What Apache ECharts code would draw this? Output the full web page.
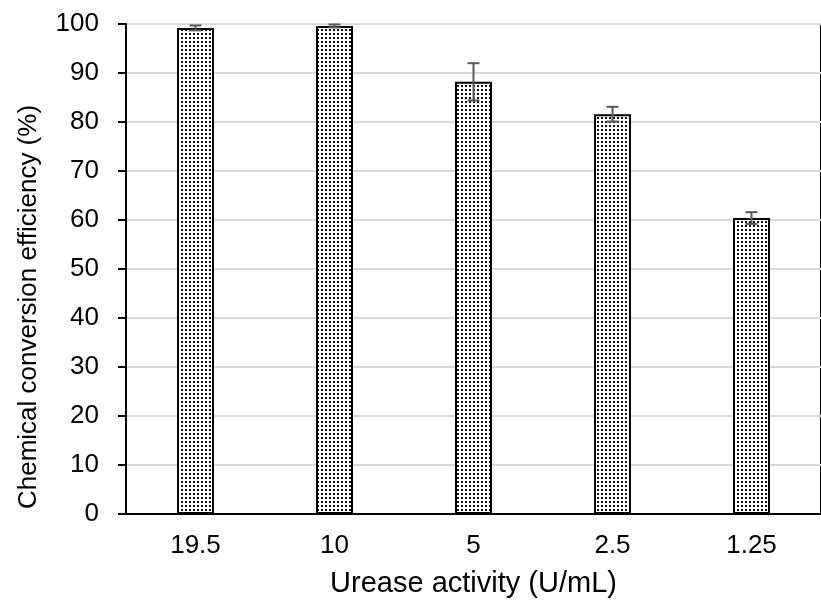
<!DOCTYPE html>
<html>
<head>
<meta charset="utf-8">
<script src="https://cdn.jsdelivr.net/npm/echarts@6/dist/echarts.min.js"></script>
<style>
  html, body { margin: 0; padding: 0; background: #fff; }
  #chartmain { width: 821px; height: 612px; }
</style>
</head>
<body>
<div id="chartmain"></div>
<script>
// data
var activities = ['19.5', '10', '5', '2.5', '1.25'];
var efficiency = [99.2, 99.6, 88.2, 81.6, 60.4];
var errors = [0.5, 0.3, 3.8, 1.5, 1.2];
var yTicks = [0, 10, 20, 30, 40, 50, 60, 70, 80, 90, 100];

window.onload = function () {
    // dotted fill like the excel pattern
    var tile = document.createElement('canvas');
    tile.width = 4;
    tile.height = 4;
    var ctx = tile.getContext('2d');
    ctx.fillStyle = '#ffffff';
    ctx.fillRect(0, 0, 4, 4);
    ctx.fillStyle = '#111111';
    ctx.fillRect(1, 1, 2, 2);

    var errData = activities.map(function (a, i) {
        return [i, efficiency[i] - errors[i], efficiency[i] + errors[i]];
    });

    var font = '"Liberation Sans", Arial, sans-serif';

    var option = {
        animation: false,
        grid: {
            left: 126, top: 24, width: 702, bottom: 98,
            show: true, borderColor: '#000', borderWidth: 2
        },
        xAxis: {
            type: 'category',
            data: activities,
            name: 'Urease activity (U/mL)',
            nameLocation: 'middle',
            nameGap: 55,
            nameTextStyle: { fontFamily: font, fontSize: 29, color: '#000' },
            axisLine: { lineStyle: { color: '#000', width: 2 } },
            axisTick: { show: false },
            axisLabel: { fontFamily: font, fontSize: 26, color: '#000', margin: 19 }
        },
        yAxis: {
            type: 'value',
            min: yTicks[0],
            max: yTicks[yTicks.length - 1],
            interval: 10,
            name: 'Chemical conversion efficiency (%)',
            nameLocation: 'middle',
            nameGap: 84,
            nameTextStyle: { fontFamily: font, fontSize: 26, color: '#000', padding: [0, 76, 0, 0] },
            axisLine: { show: true, lineStyle: { color: '#000', width: 2 } },
            axisTick: { show: true, length: 8, lineStyle: { color: '#000', width: 2 } },
            axisLabel: { fontFamily: font, fontSize: 26, color: '#000', margin: 27 },
            splitLine: { lineStyle: { color: '#d9d9d9', width: 2 } }
        },
        series: [
            {
                type: 'bar',
                data: efficiency,
                barWidth: 37,
                itemStyle: {
                    color: { image: tile, repeat: 'repeat' },
                    borderColor: '#000',
                    borderWidth: 2
                }
            },
            {
                type: 'custom',
                data: errData,
                z: 10,
                renderItem: function (params, api) {
                    var lo = api.coord([api.value(0), api.value(1)]);
                    var hi = api.coord([api.value(0), api.value(2)]);
                    var hw = 6;
                    var st = { stroke: '#595959', lineWidth: 2 };
                    return {
                        type: 'group',
                        children: [
                            { type: 'line', shape: { x1: hi[0], y1: hi[1], x2: lo[0], y2: lo[1] }, style: st },
                            { type: 'line', shape: { x1: hi[0] - hw, y1: hi[1], x2: hi[0] + hw, y2: hi[1] }, style: st },
                            { type: 'line', shape: { x1: lo[0] - hw, y1: lo[1], x2: lo[0] + hw, y2: lo[1] }, style: st }
                        ]
                    };
                }
            }
        ]
    };

    var myChart = echarts.init(document.getElementById('chartmain'));
    myChart.setOption(option);
};
</script>
</body>
</html>
